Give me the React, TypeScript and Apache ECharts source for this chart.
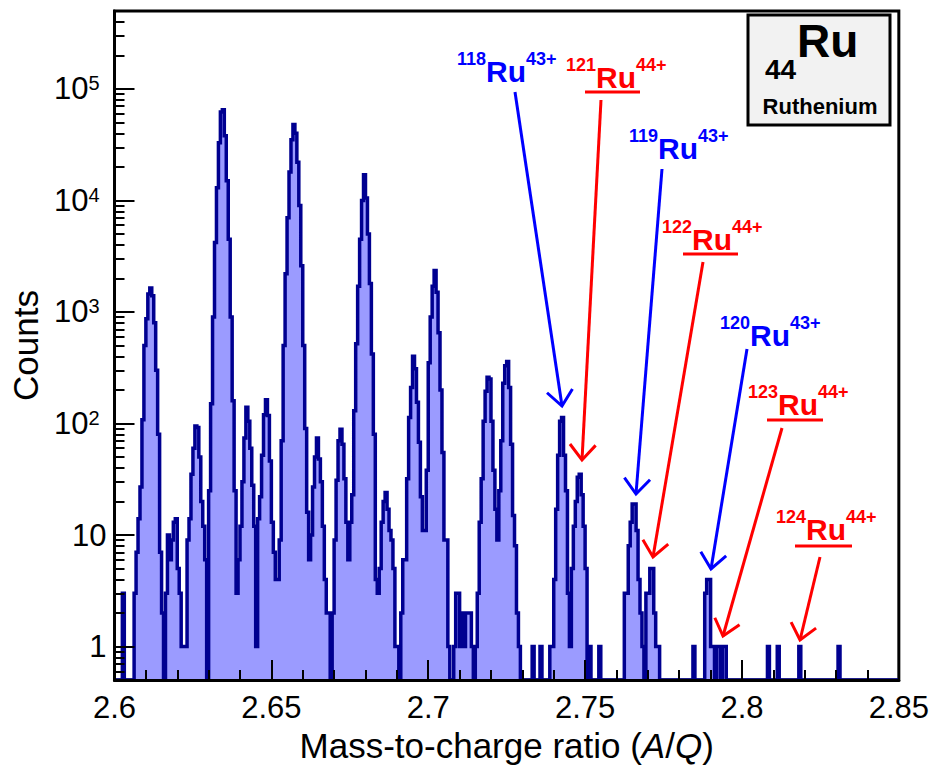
import React, { useEffect, useRef } from 'react';
import * as echarts from 'echarts';

const X_MIN = 2.6;
const X_MAX = 2.85;
const BIN_WIDTH = 0.000625;
const Y_MIN = 0.5;
const Y_MAX = 500000;

// counts per bin, bins 0-99
const countsA = [
  0, 0, 0, 0, 3, 0, 0, 0, 0, 0,
  3, 7, 14, 27, 108, 500, 870, 1450, 1640, 1400,
  800, 300, 80, 7, 2, 0, 3, 10, 6, 9,
  13, 14, 5, 3, 1, 1, 1, 9, 14, 35,
  60, 95, 92, 50, 20, 12, 6, 0, 25, 150,
  900, 4200, 13000, 33000, 62000, 65000, 38000, 15000, 4500, 900,
  160, 25, 3, 6, 12, 30, 74, 140, 105, 60,
  28, 12, 1, 14, 22, 52, 120, 163, 118, 46,
  13, 7, 4, 4, 9, 70, 500, 2200, 7000, 18000,
  35000, 48000, 40000, 22000, 9000, 2600, 500, 90, 16, 6,
];
// bins 100-199
const countsB = [
  10, 27, 50, 74, 48, 30, 12, 4, 2, 2,
  0, 2, 9, 31, 70, 89, 65, 32, 13, 6,
  13, 23, 130, 520, 1700, 4500, 10000, 17000, 10500, 5000,
  1800, 420, 80, 4, 3, 5, 13, 20, 24, 17,
  11, 9, 5, 1, 1, 0, 2, 6, 6, 32,
  113, 210, 400, 310, 155, 68, 22, 11, 11, 38,
  350, 900, 1700, 2350, 1500, 650, 200, 55, 9, 9,
  1, 0, 0, 1, 3, 3, 1, 2, 1, 2,
  2, 2, 1, 0, 1, 3, 13, 32, 105, 195,
  260, 250, 105, 38, 17, 9, 25, 70, 230, 330,
];
// bins 200-299
const countsC = [
  360, 210, 65, 15, 8, 2, 1, 0, 0, 0,
  0, 0, 0, 1, 0, 0, 0, 1, 0, 0,
  0, 0, 1, 1, 4, 17, 52, 105, 113, 52,
  25, 3, 1, 5, 12, 20, 33, 35, 23, 12,
  5, 0, 1, 0, 0, 0, 0, 1, 0, 0,
  0, 0, 0, 0, 0, 0, 0, 0, 0, 0,
  3, 3, 8, 13, 19, 19, 11, 4, 2, 1,
  0, 3, 3, 5, 5, 2, 1, 1, 0, 0,
  0, 0, 0, 0, 0, 0, 0, 0, 0, 0,
  0, 0, 0, 0, 0, 1, 0, 0, 0, 0,
];
// bins 300-399
const countsD = [
  0, 3, 4, 4, 1, 1, 0, 1, 1, 0,
  1, 1, 0, 0, 0, 0, 0, 0, 0, 0,
  0, 0, 0, 0, 0, 0, 0, 0, 0, 0,
  0, 0, 0, 1, 0, 0, 0, 0, 1, 0,
  0, 0, 0, 0, 0, 0, 0, 0, 0, 1,
  0, 0, 0, 0, 0, 0, 0, 0, 0, 0,
  0, 0, 0, 0, 0, 0, 0, 0, 0, 1,
  0, 0, 0, 0, 0, 0, 0, 0, 0, 0,
  0, 0, 0, 0, 0, 0, 0, 0, 0, 0,
  0, 0, 0, 0, 0, 0, 0, 0, 0, 0,
];

const yMajorTicks = [1, 10, 100, 1000, 10000, 100000];
const yMinorTicks = [
  0.6, 0.7, 0.8, 0.9,
  2, 3, 4, 5, 6, 7, 8, 9,
  20, 30, 40, 50, 60, 70, 80, 90,
  200, 300, 400, 500, 600, 700, 800, 900,
  2000, 3000, 4000, 5000, 6000, 7000, 8000, 9000,
  20000, 30000, 40000, 50000, 60000, 70000, 80000, 90000,
  200000, 300000, 400000,
];

const isotopes = [
  { mass: '118', charge: '43+', color: '#0000ff', lx: 457, ly: 50, ul: null, arrow: [515, 92, 562, 406] },
  { mass: '121', charge: '44+', color: '#ff0000', lx: 566, ly: 56, ul: [585, 640, 92], arrow: [601, 100, 582, 460] },
  { mass: '119', charge: '43+', color: '#0000ff', lx: 629, ly: 127, ul: null, arrow: [662, 169, 636, 494] },
  { mass: '122', charge: '44+', color: '#ff0000', lx: 662, ly: 218, ul: [683, 738, 254], arrow: [703, 262, 653, 557] },
  { mass: '120', charge: '43+', color: '#0000ff', lx: 720, ly: 314, ul: null, arrow: [747, 349, 711, 569] },
  { mass: '123', charge: '44+', color: '#ff0000', lx: 748, ly: 383, ul: [767, 823, 420], arrow: [782, 428, 723, 636] },
  { mass: '124', charge: '44+', color: '#ff0000', lx: 776, ly: 508, ul: [795, 852, 546], arrow: [820, 557, 800, 640] },
];

const FONT = '"Liberation Sans", Arial, Helvetica, sans-serif';

function arrowElements(a: number[], color: string) {
  const [x1, y1, x2, y2] = a;
  const dx = x2 - x1;
  const dy = y2 - y1;
  const len = Math.sqrt(dx * dx + dy * dy);
  const ux = dx / len;
  const uy = dy / len;
  const L = 20;
  const ang = (40 * Math.PI) / 180;
  const rot = (s: number) => [
    ux * Math.cos(s * ang) - uy * Math.sin(s * ang),
    ux * Math.sin(s * ang) + uy * Math.cos(s * ang),
  ];
  const r1 = rot(1);
  const r2 = rot(-1);
  return [
    { type: 'line', z: 100, shape: { x1, y1, x2, y2 }, style: { stroke: color, lineWidth: 3 } },
    {
      type: 'polyline', z: 100,
      shape: { points: [[x2 - L * r1[0], y2 - L * r1[1]], [x2, y2], [x2 - L * r2[0], y2 - L * r2[1]]] },
      style: { stroke: color, lineWidth: 3, fill: null },
    },
  ];
}

export default function App() {
  const ref = useRef<HTMLDivElement>(null);
  useEffect(() => {
    const chart = echarts.init(ref.current!, null, { renderer: 'svg' });
    const counts = [...countsA, ...countsB, ...countsC, ...countsD];
    const data: number[][] = counts.map((c, k) => [X_MIN + k * BIN_WIDTH, c > 0 ? c : Y_MIN]);
    const last = counts[counts.length - 1];
    data.push([X_MAX, last > 0 ? last : Y_MIN]);

    const graphics: any[] = [];
    isotopes.forEach((iso) => {
      graphics.push({
        type: 'text', z: 100, x: iso.lx, y: iso.ly,
        style: {
          text: `{m|${iso.mass}}{r|Ru}{m|${iso.charge}}`,
          align: 'left', verticalAlign: 'top',
          rich: {
            m: { fontSize: 18, fontWeight: 'bold', fontFamily: FONT, fill: iso.color, verticalAlign: 'top', lineHeight: 18 },
            r: { fontSize: 30, fontWeight: 'bold', fontFamily: FONT, fill: iso.color, lineHeight: 36, verticalAlign: 'bottom' },
          },
        },
      });
      if (iso.ul) {
        graphics.push({
          type: 'line', z: 100,
          shape: { x1: iso.ul[0], y1: iso.ul[2], x2: iso.ul[1], y2: iso.ul[2] },
          style: { stroke: iso.color, lineWidth: 3 },
        });
      }
      graphics.push(...arrowElements(iso.arrow, iso.color));
    });
    graphics.push({
      type: 'rect', z: 100, shape: { x: 748, y: 15, width: 142, height: 110 },
      style: { fill: '#f2f2f2', stroke: '#000', lineWidth: 3 },
    });
    graphics.push({
      type: 'text', z: 101, x: 765, y: 83,
      style: { text: '44', font: `bold 28px ${FONT}`, fill: '#000', align: 'left', verticalAlign: 'bottom' },
    });
    graphics.push({
      type: 'text', z: 101, x: 797, y: 64,
      style: { text: 'Ru', font: `bold 46px ${FONT}`, fill: '#000', align: 'left', verticalAlign: 'bottom' },
    });
    graphics.push({
      type: 'text', z: 101, x: 820, y: 106,
      style: { text: 'Ruthenium', font: `bold 22px ${FONT}`, fill: '#000', align: 'center', verticalAlign: 'middle' },
    });

    const yLabelFormatter = (val: number) => {
      const lg = Math.log10(val);
      const e = Math.round(lg);
      if (Math.abs(lg - e) > 1e-6) return '';
      if (e === 0) return '{b|1}';
      if (e === 1) return '{b|10}';
      return `{b|10}{s|${e}}`;
    };

    chart.setOption({
      animation: false,
      backgroundColor: '#fff',
      grid: {
        left: 113, right: 33, top: 11, bottom: 82,
        show: true, borderColor: '#000', borderWidth: 3, backgroundColor: '#fff',
      },
      xAxis: {
        type: 'value', min: X_MIN, max: X_MAX, interval: 0.05, z: 10,
        axisLine: { show: true, onZero: false, lineStyle: { color: '#000', width: 3 } },
        axisTick: { show: true, inside: true, length: 20, lineStyle: { color: '#000', width: 2 } },
        minorTick: { show: true, splitNumber: 5, length: 10, lineStyle: { color: '#000', width: 2 } },
        splitLine: { show: false },
        axisLabel: {
          color: '#000', fontSize: 31, fontFamily: FONT, margin: 12,
          formatter: (v: number) => String(parseFloat(v.toFixed(3))),
        },
        name: 'Mass-to-charge ratio ({i|A}/{i|Q})',
        nameLocation: 'middle', nameGap: 41,
        nameTextStyle: {
          color: '#000', fontSize: 35, fontFamily: FONT,
          rich: { i: { fontStyle: 'italic', fontSize: 35, fontFamily: FONT, color: '#000' } },
        },
      },
      yAxis: [
        {
          type: 'log', logBase: 10, min: Y_MIN, max: Y_MAX, z: 10,
          axisLine: { show: true, onZero: false, lineStyle: { color: '#000', width: 3 } },
          axisTick: { show: true, inside: true, length: 20, customValues: yMajorTicks, lineStyle: { color: '#000', width: 2 } },
          splitLine: { show: false },
          axisLabel: {
            customValues: yMajorTicks, margin: 8, color: '#000', fontFamily: FONT,
            formatter: yLabelFormatter,
            rich: {
              b: { fontSize: 31, fontFamily: FONT, color: '#000', lineHeight: 31, verticalAlign: 'bottom' },
              s: { fontSize: 20, fontFamily: FONT, color: '#000', lineHeight: 20, verticalAlign: 'top', padding: [0, 7, 14, 0] },
            },
          },
          name: 'Counts', nameLocation: 'middle', nameGap: 66, nameRotate: 90,
          nameTextStyle: { color: '#000', fontSize: 35, fontFamily: FONT },
        },
        {
          type: 'log', logBase: 10, min: Y_MIN, max: Y_MAX, z: 10, position: 'left',
          axisLine: { show: false },
          axisTick: { show: true, inside: true, length: 10, customValues: yMinorTicks, lineStyle: { color: '#000', width: 2 } },
          axisLabel: { show: false },
          splitLine: { show: false },
        },
      ],
      series: [
        {
          type: 'line', data, step: 'end', yAxisIndex: 0,
          showSymbol: false, symbol: 'none', z: 2,
          lineStyle: { color: '#000090', width: 3.5, join: 'miter' },
          areaStyle: { color: '#9b9bff', opacity: 1, origin: 'start' },
        },
      ],
      graphic: graphics,
    });
    return () => chart.dispose();
  }, []);
  return <div ref={ref} style={{ position: 'fixed', left: 0, top: 0, width: 932, height: 768 }} />;
}
